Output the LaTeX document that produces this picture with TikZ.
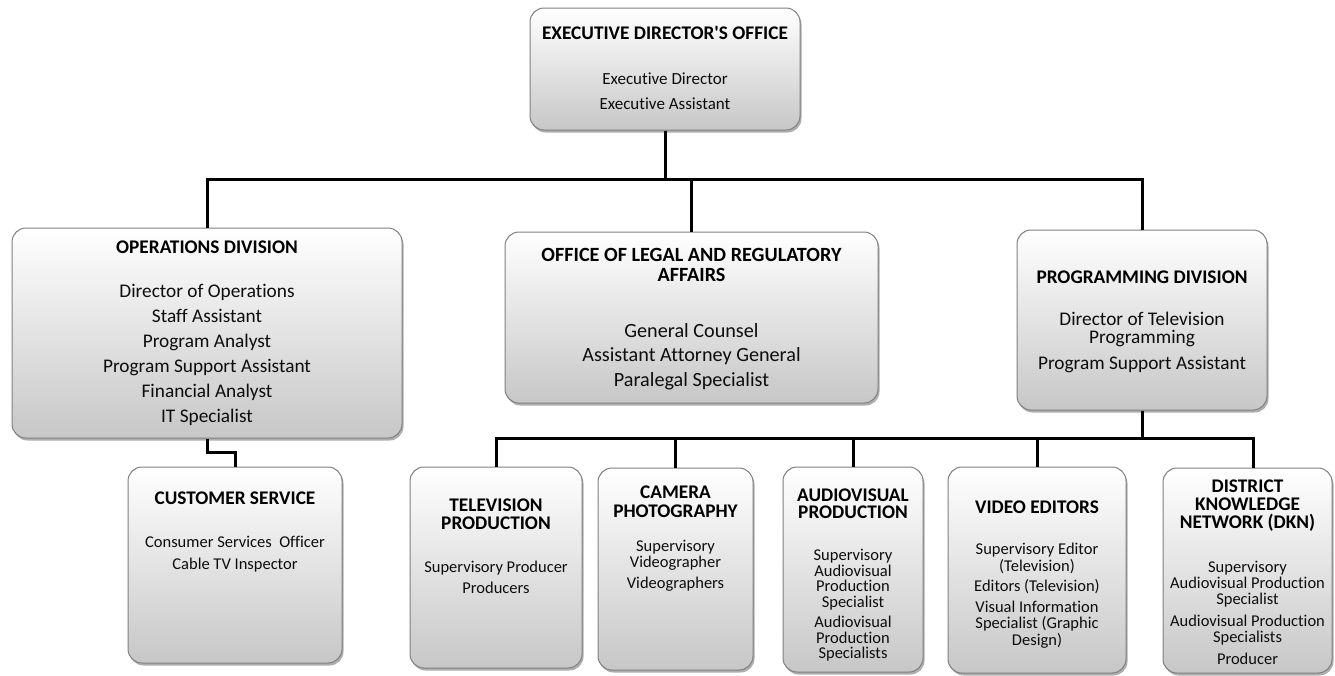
\documentclass[tikz,border=0pt]{standalone}
\usepackage{fontspec}
\setmainfont{Carlito}[Ligatures={NoCommon}]
\usetikzlibrary{shadows,calc}
\begin{document}
\begin{tikzpicture}[x=1pt,y=-1pt,
  box/.style={draw=black!50, line width=1pt, rounded corners=14pt,
    top color=white, bottom color=black!22, inner sep=0pt,
    drop shadow={shadow xshift=1.5pt, shadow yshift=-2.5pt, opacity=0.45, fill=black!70}},
  ttl/.style={font=\bfseries\fontsize{19.3}{18}\selectfont, align=center, text=black, inner sep=0pt},
  big/.style={font=\fontsize{19.3}{25}\selectfont, align=center, text=black!95, inner sep=0pt},
  small/.style={font=\fontsize{16.5}{16}\selectfont, align=center, text=black!95, inner sep=0pt},
  conn/.style={line width=3pt, black, line join=miter}]
\fill[white] (0,0) rectangle (1335,675);
\useasboundingbox (0,0) rectangle (1335,675);

% boxes
\node[box, minimum width=270pt, minimum height=122pt] (top) at (665,69) {};
\node[box, minimum width=390pt, minimum height=210pt] (ops) at (207,333) {};
\node[box, minimum width=373pt, minimum height=171pt] (legal) at (691.5,317.5) {};
\node[box, minimum width=250pt, minimum height=180pt] (prog) at (1142,320) {};
\node[box, minimum width=214pt, minimum height=196pt] (cust) at (235,565) {};
\node[box, minimum width=172pt, minimum height=201pt] (tv) at (496,567.5) {};
\node[box, minimum width=155pt, minimum height=202pt] (cam) at (675.5,569) {};
\node[box, minimum width=140pt, minimum height=205pt] (av) at (853,569.5) {};
\node[box, minimum width=178pt, minimum height=206pt] (ve) at (1037,570) {};
\node[box, minimum width=169pt, minimum height=205pt] (dkn) at (1247.5,570.5) {};

% texts
\node[ttl] (topT) at (665,33) {EXECUTIVE DIRECTOR\textquotesingle S OFFICE};
\node[big, font=\fontsize{17}{25}\selectfont] (topB) at (665,91.5) {Executive Director\\Executive Assistant};

\node[ttl] (opsT) at (207,247) {OPERATIONS DIVISION};
\node[big] (opsB) at (207,355) {Director of Operations\\Staff Assistant\\Program Analyst\\Program Support Assistant\\Financial Analyst\\IT Specialist};

\node[ttl, font=\bfseries\fontsize{20.2}{20}\selectfont] (legalT) at (691.5,265) {OFFICE OF LEGAL AND REGULATORY\\AFFAIRS};
\node[big, font=\fontsize{20.2}{24.5}\selectfont] (legalB) at (691.5,356.5) {General Counsel\\Assistant Attorney General\\Paralegal Specialist};

\node[ttl] (progT) at (1142,277) {PROGRAMMING DIVISION};
\node[big, font=\fontsize{19.3}{18}\selectfont] (progB) at (1142,342) {Director of Television\\Programming\\[8pt]Program Support Assistant};

\node[ttl] (custT) at (235,498) {CUSTOMER SERVICE};
\node[small, font=\fontsize{16.5}{22}\selectfont] (custB) at (235,554) {Consumer Services\ \ Officer\\Cable TV Inspector};

\node[ttl] (tvT) at (496,514) {TELEVISION\\PRODUCTION};
\node[small, font=\fontsize{16.5}{21}\selectfont] (tvB) at (496,577.5) {Supervisory Producer\\Producers};

\node[ttl, font=\bfseries\fontsize{19.3}{19}\selectfont] (camT) at (675.5,501.5) {CAMERA\\PHOTOGRAPHY};
\node[small] (camB) at (675.5,565.5) {Supervisory\\Videographer\\[5pt]Videographers};

\node[ttl, font=\bfseries\fontsize{19.3}{17.5}\selectfont] (avT) at (853,503.5) {AUDIOVISUAL\\PRODUCTION};
\node[small, font=\fontsize{16.5}{15.5}\selectfont] (avB) at (853,605.5) {Supervisory\\Audiovisual\\Production\\Specialist\\[5pt]Audiovisual\\Production\\Specialists};

\node[ttl] (veT) at (1037,507) {VIDEO EDITORS};
\node[small, font=\fontsize{16.5}{16.5}\selectfont] (veB) at (1037,595.5) {Supervisory Editor\\(Television)\\[4pt]Editors (Television)\\[4pt]Visual Information\\Specialist (Graphic\\Design)};

\node[ttl] (dknT) at (1247.5,506) {DISTRICT\\KNOWLEDGE\\NETWORK (DKN)};
\node[small, font=\fontsize{16.5}{16}\selectfont] (dknB) at (1247.5,612.5) {Supervisory\\Audiovisual Production\\Specialist\\[6pt]Audiovisual Production\\Specialists\\[6pt]Producer};

% connectors
\coordinate (bus1) at (665,179);
\coordinate (bus2) at (1142,438);
\draw[conn] (top.south) -- (top.south |- bus1);
\draw[conn] (ops.north) -- (ops.north |- bus1) -- (prog.north |- bus1) -- (prog.north);
\draw[conn] (legal.north) -- (legal.north |- bus1);
\draw[conn] (ops.south) -- ++(0,14) -| (cust.north);
\draw[conn] (prog.south) -- (prog.south |- bus2);
\draw[conn] (tv.north) -- (tv.north |- bus2) -- ($(dkn.north |- bus2)+(5.5,0)$) -- ($(dkn.north)+(5.5,0)$);
\draw[conn] (cam.north) -- (cam.north |- bus2);
\draw[conn] (av.north) -- (av.north |- bus2);
\draw[conn] (ve.north) -- (ve.north |- bus2);
\end{tikzpicture}
\end{document}
